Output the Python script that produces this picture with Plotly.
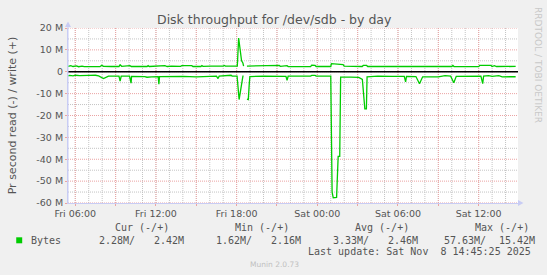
import plotly.graph_objects as go

# ---------------- data (values in millions of bytes / second) ----------------
FRI = "2025-11-07 "
SAT = "2025-11-08 "

write_times = [FRI + t for t in [
    "05:28", "05:40", "05:50", "06:05", "06:15", "06:30", "06:40", "07:50", "07:58", "08:06",
    "08:40", "09:15", "09:20", "09:27", "10:04", "10:10", "11:20", "11:25", "11:30", "12:30",
    "12:40", "12:50", "13:10", "13:50", "13:55", "14:40", "14:45", "15:20", "15:25", "15:30",
    "16:00", "16:05", "17:00", "17:05", "17:10", "18:03", "18:09", "18:13", "18:18", "18:22",
    "18:28", "18:31", "18:38", "18:46", "19:15", "19:20", "19:25", "19:45", "19:50", "20:15",
    "20:20", "20:30", "20:35", "21:10", "21:15", "21:45", "21:50", "23:30", "23:35", "23:50",
    "23:55"]] + [SAT + t for t in [
    "00:05", "01:00", "01:03", "01:20", "01:30", "01:45", "01:55", "02:00", "03:20", "03:25",
    "03:40", "03:45", "06:00", "06:05", "06:20", "06:25", "09:00", "09:05", "09:15", "10:00",
    "10:05", "10:10", "12:00", "12:05", "12:55", "13:00", "13:10", "13:20", "14:45"]]
write_vals = [
    2.4, 2.8, 2.4, 2.7, 2.3, 2.6, 2.3, 2.3, 3.0, 2.5,
    2.4, 2.4, 3.2, 2.5, 2.8, 2.4, 2.4, 2.8, 2.4, 2.5,
    2.8, 2.4, 2.6, 2.5, 2.8, 2.8, 2.4, 2.4, 2.8, 2.5,
    2.8, 2.6, 2.6, 2.9, 2.6, 2.6, 15.4, 12.0, 9.0, 5.0,
    4.0, 2.6, None, 2.6, 2.6, 2.9, 2.6, 2.9, 2.6, 2.9,
    2.6, 2.9, 2.6, 2.9, 2.5, 2.8, 2.4, 2.3, 3.0, 2.9,
    2.4,
    2.4, 2.4, 3.7, 3.6, 3.4, 3.3, 3.3, 2.6, 2.4, 2.9,
    2.9, 2.4, 2.4, 2.7, 2.7, 2.4, 2.4, 2.7, 2.4, 2.4,
    2.9, 2.4, 2.3, 2.9, 2.9, 2.4, 2.8, 2.4, 2.42]

read_times = [FRI + t for t in [
    "05:28", "05:35", "05:50", "06:00", "06:20", "06:40", "07:00", "07:30", "07:44", "08:06",
    "08:13", "08:28", "09:15", "09:20", "09:25", "10:02", "10:09", "10:11", "11:10", "11:20",
    "11:40", "12:10", "12:13", "12:16", "14:00", "15:00", "16:30", "16:37", "16:42", "17:20",
    "17:35", "17:40", "18:02", "18:11", "18:21", "18:28", "18:31", "18:38", "18:46", "18:52",
    "18:56", "18:59", "20:00", "21:40", "21:45", "21:50", "23:30", "23:35", "23:50", "23:55"]] + [SAT + t for t in [
    "01:00", "01:06", "01:11", "01:26", "01:33", "01:40", "01:44", "02:00", "02:30", "03:05",
    "03:21", "03:32", "03:39", "03:42", "04:30", "05:30", "06:28", "06:34", "06:38", "07:20",
    "07:36", "07:50", "09:00", "09:30", "09:55", "10:09", "10:20", "12:10", "12:18", "12:22",
    "12:45", "13:00", "13:30", "13:45", "14:45"]]
read_vals = [
    -1.9, -1.7, -1.9, -1.6, -1.8, -1.6, -1.7, -1.6, -1.9, -3.1,
    -2.7, -2.0, -2.0, -4.3, -2.0, -2.0, -5.2, -2.1, -2.2, -2.5,
    -2.3, -2.2, -5.7, -2.2, -2.1, -2.3, -2.0, -3.1, -2.0, -1.6,
    -1.6, -2.0, -2.0, -12.7, -5.0, -2.0, -2.0, None, -12.5, -12.7,
    -6.0, -2.2, -2.0, -2.1, -3.9, -2.0, -2.0, -1.7, -1.7, -2.0,
    -2.0, -55.0, -57.6, -57.4, -38.7, -38.7, -2.5, -2.6, -2.5, -2.6,
    -3.5, -17.0, -17.0, -2.3, -2.0, -2.1, -2.1, -4.6, -2.1, -2.2,
    -5.5, -2.3, -2.3, -1.8, -2.0, -5.0, -2.1, -2.0, -5.4, -2.0,
    -1.8, -2.1, -1.8, -2.3, -2.28]

x_tickvals = [FRI + "06:00", FRI + "09:00", FRI + "12:00", FRI + "15:00", FRI + "18:00",
              FRI + "21:00", SAT + "00:00", SAT + "03:00", SAT + "06:00", SAT + "09:00",
              SAT + "12:00"]
x_ticktext = ["Fri 06:00", "", "Fri 12:00", "", "Fri 18:00", "", "Sat 00:00", "",
              "Sat 06:00", "", "Sat 12:00"]
x_minor_vals = [FRI + f"{h:02d}:00" for h in range(6, 24)] + [SAT + f"{h:02d}:00" for h in range(0, 15)]
y_tickvals = [20, 10, 0, -10, -20, -30, -40, -50, -60]
y_ticktext = ["20 M", "10 M", "0", "-10 M", "-20 M", "-30 M", "-40 M", "-50 M", "-60 M"]
y_minor_vals = [15, 5, -5, -15, -25, -35, -45, -55]

title_text = "Disk throughput for /dev/sdb - by day"
y_title = "Pr second read (-) / write (+)"
legend_headers = ["Cur (-/+)", "Min (-/+)", "Avg (-/+)", "Max (-/+)"]
legend_label = "Bytes"
legend_values = ["2.28M/", "2.42M", "1.62M/", "2.16M", "3.33M/", "2.46M", "57.63M/", "15.42M"]
last_update = "Last update: Sat Nov  8 14:45:25 2025"

# ---------------- layout geometry ----------------
W, H = 547, 275
L, R, T, B = 66, 29, 28, 72
PW, PH = W - L - R, H - T - B

def xp(px):
    return (px - L) / PW

def yp(py):
    return (T + PH - py) / PH

GREEN = "#00cc00"
TXT = "#555555"
AXIS = "#c8ccf4"
MGRID = "#eba3a3"
GRID = "#c4c4c4"
SANS = "DejaVu Sans"
MONO = "DejaVu Sans Mono"
DOTS = "1px,1px"

fig = go.Figure()
fig.add_trace(go.Scatter(x=write_times, y=write_vals, mode="lines",
                         line=dict(color=GREEN, width=1.3), connectgaps=False,
                         hoverinfo="skip", showlegend=False))
fig.add_trace(go.Scatter(x=read_times, y=read_vals, mode="lines",
                         line=dict(color=GREEN, width=1.3), connectgaps=False,
                         hoverinfo="skip", showlegend=False))

fig.update_layout(
    width=W, height=H,
    margin=dict(l=L, r=R, t=T, b=B, pad=0),
    paper_bgcolor="#f0f0f0", plot_bgcolor="#ffffff",
    font=dict(family=SANS, color=TXT, size=9.5),
    showlegend=False,
)

fig.update_xaxes(
    type="date",
    range=[FRI + "05:27:30", SAT + "14:55:30"],
    tickmode="array", tickvals=x_tickvals, ticktext=x_ticktext,
    tickfont=dict(family=SANS, size=9.5, color=TXT),
    showgrid=False,
    showline=True, linecolor=AXIS, linewidth=1,
    ticks="outside", ticklen=2, tickcolor=MGRID,
    zeroline=False, fixedrange=True,
)
fig.update_yaxes(
    range=[-60, 20],
    tickmode="array", tickvals=y_tickvals, ticktext=y_ticktext,
    tickfont=dict(family=SANS, size=9.5, color=TXT),
    showgrid=False,
    showline=True, linecolor=AXIS, linewidth=1,
    ticks="outside", ticklen=2, tickcolor=MGRID,
    zeroline=False,
    fixedrange=True,
    title=dict(text=y_title, font=dict(family=SANS, size=11, color=TXT), standoff=17),
)

shapes = []
# grid lines (minor gray first, then major red), drawn below the data
for v in x_minor_vals:
    shapes.append(dict(type="line", xref="x", yref="paper", x0=v, x1=v, y0=0, y1=1,
                       layer="below", line=dict(color=GRID, width=1, dash=DOTS)))
for v in y_minor_vals:
    shapes.append(dict(type="line", xref="paper", yref="y", x0=0, x1=1, y0=v, y1=v,
                       layer="below", line=dict(color=GRID, width=1, dash=DOTS)))
for v in x_tickvals:
    shapes.append(dict(type="line", xref="x", yref="paper", x0=v, x1=v, y0=0, y1=1,
                       layer="below", line=dict(color=MGRID, width=1, dash=DOTS)))
for v in y_tickvals:
    shapes.append(dict(type="line", xref="paper", yref="y", x0=0, x1=1, y0=v, y1=v,
                       layer="below", line=dict(color=MGRID, width=1, dash=DOTS)))
# zero line
shapes.append(dict(type="line", xref="paper", yref="y", x0=0, x1=1, y0=0, y1=0,
                   layer="below", line=dict(color="#000000", width=1.6)))
# arrows on axes
shapes.append(dict(type="path", xref="paper", yref="paper",
                   path=f"M {xp(63)} {yp(27)} L {xp(69)} {yp(27)} L {xp(66)} {yp(21.5)} Z",
                   fillcolor=AXIS, line=dict(width=0)))
shapes.append(dict(type="path", xref="paper", yref="paper",
                   path=f"M {xp(518)} {yp(200)} L {xp(518)} {yp(206)} L {xp(523.5)} {yp(203)} Z",
                   fillcolor=AXIS, line=dict(width=0)))
shapes.append(dict(type="line", xref="paper", yref="paper",
                   x0=xp(66), x1=xp(66), y0=yp(203), y1=yp(25),
                   line=dict(color=AXIS, width=1)))
# legend swatch
shapes.append(dict(type="rect", xref="paper", yref="paper",
                   x0=xp(14), x1=xp(20), y0=yp(243.3), y1=yp(237.3),
                   fillcolor=GREEN, line=dict(width=0)))
fig.update_layout(shapes=shapes)

ann = []
def add_text(text, px, py, size, family=SANS, color=TXT, xanchor="left", angle=0):
    ann.append(dict(text=text, x=xp(px), y=yp(py), xref="paper", yref="paper",
                    xanchor=xanchor, yanchor="middle", showarrow=False,
                    textangle=angle, font=dict(family=family, size=size, color=color)))

add_text(title_text, 273, 20, 12.5, xanchor="center")
add_text("RRDTOOL / TOBI OETIKER", 538, 65, 9, color="#c8c8c8", xanchor="center", angle=90)

header_x = [111.7, 232, 352.4, 472.8]
for txt, px in zip(legend_headers, header_x):
    add_text(txt, px, 227.3, 10, family=MONO)
add_text(legend_label, 26.5, 240, 10, family=MONO)
value_x = [95.5, 150, 212.8, 268, 329.7, 385, 442, 497]
for txt, px in zip(legend_values, value_x):
    add_text(txt, px, 240, 10, family=MONO)
add_text(last_update, 533.5, 251.7, 10, family=MONO, xanchor="right")
add_text("Munin 2.0.73", 273, 264, 7.5, color="#c0c0c0", xanchor="center")

fig.update_layout(annotations=ann)

fig.write_html("out.html", config={"displayModeBar": False, "staticPlot": True})
